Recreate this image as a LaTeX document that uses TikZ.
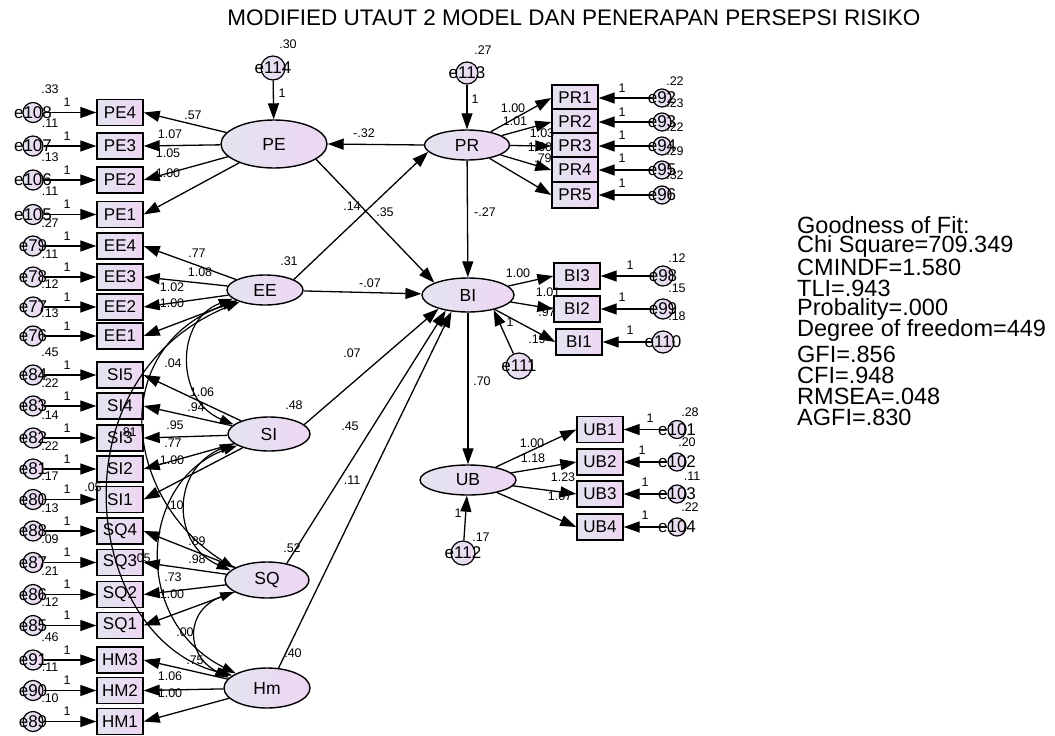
\documentclass[tikz,border=0pt]{standalone}
\usepackage{fontspec}
\setmainfont{Liberation Sans}
\usetikzlibrary{arrows.meta,shapes.geometric}
\definecolor{fillL}{RGB}{226,229,240}
\definecolor{fillR}{RGB}{238,214,243}
\tikzset{
  amosbase/.style={draw=black,line width=1.4pt,left color=fillL,right color=fillR,inner sep=0pt},
  obsbox/.style={amosbase,rectangle,minimum width=46pt,minimum height=26pt,font=\fontsize{17}{18}\selectfont},
  latent/.style={amosbase,ellipse,font=\fontsize{17.5}{18}\selectfont},
  errc/.style={amosbase,circle,minimum size=20pt,line width=1.2pt},
  elab/.style={font=\fontsize{17}{18}\selectfont,inner sep=0pt},
  numlab/.style={font=\fontsize{12.5}{14}\selectfont,inner sep=0pt},
  arr/.style={line width=1.3pt,-{Triangle[length=16pt,width=11pt]}},
  covarr/.style={line width=1.2pt,{Triangle[length=14pt,width=9pt]}-{Triangle[length=14pt,width=9pt]}},
  goftext/.style={font=\fontsize{23.5}{24}\selectfont,anchor=west,inner sep=0pt},
}
\newcount\labc
\newcommand\lab[2]{\global\advance\labc by 1 \node[numlab] (lab\the\labc) at (#1) {#2};}
% box name, error name, y, variance
\newcommand\leftrow[4]{%
 \node[obsbox] (#1) at (120,#3) {#1};
 \node[errc] (#2) at (33,#3) {};
 \node[elab] (#2t) at (#2) {#2};
 \node[numlab] (#2v) at (50,#3-23) {#4};
 \node[numlab] (#2o) at (67,#3-10) {1};
 \draw[arr] (#2) -- (#1);
}
% box name, box x, error name, error x, y, err size, variance pos, variance, one pos
\newcommand\rightrow[9]{%
 \node[obsbox] (#1) at (#2,#5) {#1};
 \node[errc,minimum size=#6pt] (#3) at (#4,#5) {};
 \node[elab] (#3t) at (#3) {#3};
 \node[numlab] (#3v) at (#7) {#8};
 \node[numlab] (#3o) at (#9) {1};
 \draw[arr] (#3) -- (#1);
}
\begin{document}
\begin{tikzpicture}[x=1pt,y=-1pt]
\fill[white] (0,0) rectangle (1055,736);
\useasboundingbox (0,0) rectangle (1055,736);

\node[font=\fontsize{22.5}{24}\selectfont] (title) at (574,18) {MODIFIED UTAUT 2 MODEL DAN PENERAPAN PERSEPSI RISIKO};

% latent variables
\node[latent,minimum width=106pt,minimum height=48pt] (PE) at (274,144) {PE};
\node[latent,minimum width=85pt,minimum height=30pt] (PR) at (467,145) {PR};
\node[latent,minimum width=76pt,minimum height=30pt] (EE) at (265,290) {EE};
\node[latent,minimum width=82pt,minimum height=34pt] (SI) at (269,434) {SI};
\node[latent,minimum width=84pt,minimum height=36pt] (SQ) at (267,580) {SQ};
\node[latent,minimum width=86pt,minimum height=40pt] (Hm) at (267,688) {Hm};
\node[latent,minimum width=92pt,minimum height=34pt] (BI) at (468,295) {BI};
\node[latent,minimum width=96pt,minimum height=30pt] (UB) at (468,480) {UB};

% structural errors
\node[errc,minimum size=24pt] (e114) at (273,68) {}; \node[elab] (e114t) at (e114) {e114};
\node[errc,minimum size=22pt] (e113) at (467,73) {}; \node[elab] (e113t) at (e113) {e113};
\node[errc,minimum size=26pt] (e111) at (519,366) {}; \node[elab] (e111t) at (e111) {e111};
\node[errc,minimum size=24pt] (e112) at (463,553) {}; \node[elab] (e112t) at (e112) {e112};

% left indicators
\leftrow{PE4}{e108}{112.5}{.33}
\leftrow{PE3}{e107}{146}{.11}
\leftrow{PE2}{e106}{180}{.13}
\leftrow{PE1}{e105}{214.5}{.11}
\leftrow{EE4}{e79}{246}{.27}
\leftrow{EE3}{e78}{277}{.11}
\leftrow{EE2}{e77}{307}{.12}
\leftrow{EE1}{e76}{336}{.13}
\leftrow{SI5}{e84}{375}{.45}
\leftrow{SI4}{e83}{406}{.22}
\leftrow{SI3}{e82}{438}{.14}
\leftrow{SI2}{e81}{469}{.22}
\leftrow{SI1}{e80}{499.5}{.17}
\leftrow{SQ4}{e88}{531}{.13}
\leftrow{SQ3}{e87}{562.5}{.09}
\leftrow{SQ2}{e86}{594.5}{.21}
\leftrow{SQ1}{e85}{625.5}{.12}
\leftrow{HM3}{e91}{660}{.46}
\leftrow{HM2}{e90}{690.5}{.11}
\leftrow{HM1}{e89}{721.5}{.10}

% right indicators
\rightrow{PR1}{575}{e92}{662}{98}{18}{675,81}{.22}{622,88}
\rightrow{PR2}{575}{e93}{662}{122}{18}{675,103}{.23}{622,112}
\rightrow{PR3}{575}{e94}{662}{146}{18}{675,127}{.22}{622,135}
\rightrow{PR4}{575}{e95}{662}{170}{18}{675,151}{.29}{622,158}
\rightrow{PR5}{575}{e96}{662}{195}{18}{675,175}{.32}{622,183}
\rightrow{BI3}{577}{e98}{663}{276}{20}{677,258}{.12}{630,265}
\rightrow{BI2}{577}{e99}{663}{309}{20}{677,288}{.15}{622,297}
\rightrow{BI1}{579}{e110}{663}{342}{22}{677,316}{.18}{630,330}
\rightrow{UB1}{600}{e101}{677}{429.5}{18}{690,412}{.28}{650,418}
\rightrow{UB2}{600}{e102}{677}{462}{18}{687,442}{.20}{642,450}
\rightrow{UB3}{600}{e103}{677}{494}{18}{692,476}{.11}{645,482}
\rightrow{UB4}{600}{e104}{677}{527}{18}{690,507}{.22}{645,515}

% numeric labels
\lab{288,44}{.30} \lab{282,93}{1}
\lab{483,50}{.27} \lab{475,99}{1}
\lab{537,339}{.19} \lab{510,322}{1}
\lab{458,513}{1} \lab{481,537}{.17}
\lab{289,261}{.31} \lab{294,405}{.48} \lab{292,548}{.52} \lab{293,653}{.40}
\lab{364,133}{-.32} \lab{352,206}{.14} \lab{385,212}{.35} \lab{485,212}{-.27}
\lab{370,283}{-.07} \lab{352,353}{.07} \lab{350,426}{.45} \lab{352,480}{.11}
\lab{482,381}{.70}
% loadings left
\lab{193,115}{.57} \lab{170,134}{1.07} \lab{168,153}{1.05} \lab{168,173}{1.00}
\lab{197,253}{.77} \lab{200,272}{1.08} \lab{172,287}{1.02} \lab{172,303}{1.00}
\lab{202,392}{1.06} \lab{196,407}{.94} \lab{175,425}{.95} \lab{173,443}{.77} \lab{172,460}{1.00}
\lab{197,541}{.89} \lab{197,559}{.98} \lab{173,577}{.73} \lab{172,594}{1.00}
\lab{195,660}{.75} \lab{170,676}{1.06} \lab{170,693}{1.00}
% covariances
\lab{173,363}{.04} \lab{128,432}{.81} \lab{93,487}{.05} \lab{175,505}{.10} \lab{142,558}{.05} \lab{185,632}{.00}
% loadings right
\lab{513,108}{1.00} \lab{515,121}{1.01} \lab{542,133}{1.03} \lab{540,147}{1.00} \lab{543,158}{.79}
\lab{518,273}{1.00} \lab{548,292}{1.01} \lab{547,312}{.97}
\lab{532,443}{1.00} \lab{533,458}{1.18} \lab{563,477}{1.23} \lab{560,496}{1.07}

% structural paths
\draw[arr] (e114) -- (PE);
\draw[arr] (e113) -- (PR);
\draw[arr] (e111) -- (BI.330);
\draw[arr] (e112) -- (UB);
\draw[arr] (PR.west) -- (PE.east);
\draw[arr] (PE.340) -- (BI.160);
\draw[arr] (EE.20) -- (PR.190);
\draw[arr] (PR) -- (BI);
\draw[arr] (EE) -- (BI);
\draw[arr] (SI.15) -- (BI.205);
\draw[arr] (SQ.40) -- (BI.215);
\draw[arr] (Hm.60) -- (BI.225);
\draw[arr] (BI) -- (UB);

% loadings arrows
\foreach \b in {PE4,PE3,PE2,PE1} \draw[arr] (PE) -- (\b.east);
\foreach \b in {EE4,EE3,EE2,EE1} \draw[arr] (EE) -- (\b.east);
\foreach \b in {SI5,SI4,SI3,SI2,SI1} \draw[arr] (SI) -- (\b.east);
\foreach \b in {SQ4,SQ3,SQ2,SQ1} \draw[arr] (SQ) -- (\b.east);
\foreach \b in {HM3,HM2,HM1} \draw[arr] (Hm) -- (\b.east);
\foreach \b in {PR1,PR2,PR3,PR4,PR5} \draw[arr] (PR) -- (\b.west);
\foreach \b in {BI3,BI2,BI1} \draw[arr] (BI) -- (\b.west);
\foreach \b in {UB1,UB2,UB3,UB4} \draw[arr] (UB) -- (\b.west);

% covariances
\draw[covarr] (EE.195) .. controls (175,320) and (175,400) .. (SI.165);
\draw[covarr] (EE.200) .. controls (105,350) and (125,500) .. (SQ.160);
\draw[covarr] (EE.205) .. controls (50,380) and (85,640) .. (Hm.160);
\draw[covarr] (SI.195) .. controls (170,470) and (172,545) .. (SQ.165);
\draw[covarr] (SI.200) .. controls (140,480) and (130,620) .. (Hm.155);
\draw[covarr] (SQ.200) .. controls (185,610) and (185,655) .. (Hm.165);

% goodness of fit
\node[goftext] (g1) at (797,225) {Goodness of Fit:};
\node[goftext] (g2) at (797,246) {Chi Square=709.349};
\node[goftext] (g3) at (797,267) {CMINDF=1.580};
\node[goftext] (g4) at (797,288) {TLI=.943};
\node[goftext] (g5) at (797,309) {Probality=.000};
\node[goftext] (g6) at (797,330) {Degree of freedom=449};
\node[goftext] (g7) at (797,354) {GFI=.856};
\node[goftext] (g8) at (797,375) {CFI=.948};
\node[goftext] (g9) at (797,396) {RMSEA=.048};
\node[goftext] (g10) at (797,417) {AGFI=.830};
\end{tikzpicture}
\end{document}
